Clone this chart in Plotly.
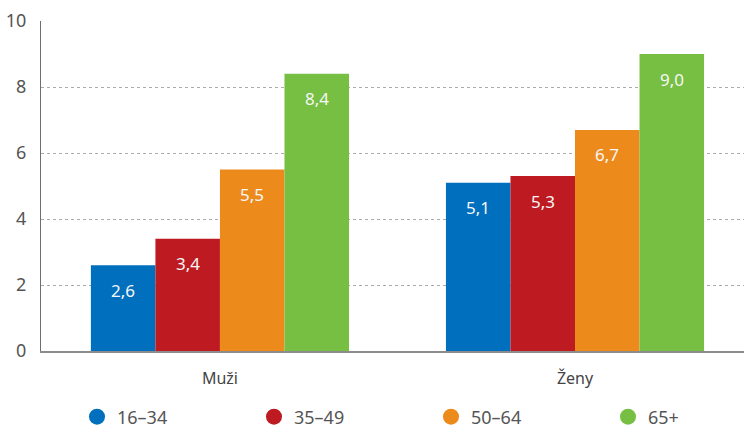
import plotly.graph_objects as go

categories = ["Muži", "Ženy"]
series_names = ["16–34", "35–49", "50–64", "65+"]
values = {
    "16–34": [2.6, 5.1],
    "35–49": [3.4, 5.3],
    "50–64": [5.5, 6.7],
    "65+": [8.4, 9.0],
}
colors = ["#0070BE", "#BE1A22", "#EC8B1C", "#77BF43"]
y_ticks = [0, 2, 4, 6, 8, 10]

FONT = "Noto Sans"
W, H = 744, 427
bargap = 0.273
fig = go.Figure()
n = len(series_names)
bw = (1 - bargap) / n
annotations = []
legend_keys = ["legend", "legend2", "legend3", "legend4"]
legend_centers = [97, 274, 451, 628]
legends = {}
for k, (name, col) in enumerate(zip(series_names, colors)):
    vals = values[name]
    fig.add_trace(go.Bar(
        x=list(range(len(categories))), y=vals, name=name, marker_color=col,
        marker_line_width=0, showlegend=False, hoverinfo="skip"))
    fig.add_trace(go.Scatter(
        x=[None], y=[None], mode="markers", name=name, legend=legend_keys[k],
        marker=dict(symbol="circle", size=22, color=col)))
    legends[legend_keys[k]] = dict(
        orientation="v", xref="container", yref="container",
        x=(legend_centers[k] - 20) / W, xanchor="left",
        y=1 - 417 / H, yanchor="middle", bgcolor="rgba(0,0,0,0)",
        font=dict(family=FONT, size=18, color="#555555"), itemwidth=30)
    for i, v in enumerate(vals):
        annotations.append(dict(
            x=i + (k - (n - 1) / 2) * bw, y=v, xref="x", yref="y",
            text=f"{v:.1f}".replace(".", ","), showarrow=False,
            yshift=-25, font=dict(family=FONT, size=17, color="#F6F6F6")))

fig.update_layout(
    width=W, height=H,
    margin=dict(l=41, r=0, t=21, b=76, autoexpand=False),
    paper_bgcolor="white", plot_bgcolor="white",
    barmode="group", bargap=bargap, bargroupgap=0,
    font=dict(family=FONT, size=16, color="#555555"),
    annotations=annotations,
    showlegend=True,
    xaxis=dict(
        range=[-0.504, 1.476], tickmode="array",
        tickvals=list(range(len(categories))), ticktext=categories,
        showgrid=False, showline=True, linecolor="#8C8C8C", linewidth=2,
        ticks="", ticklabelstandoff=12, zeroline=False,
        tickfont=dict(family=FONT, size=16, color="#444444")),
    yaxis=dict(
        range=[0, 10], tickvals=y_ticks, showgrid=True, gridcolor="#ABABAB",
        griddash="3px,3px", gridwidth=1, showline=True, linecolor="#6E6E6E",
        linewidth=1, zeroline=False, ticks="", ticklabelstandoff=10,
        tickfont=dict(family=FONT, size=18, color="#555555")),
    **legends,
)
fig.write_html("out.html", config={"displayModeBar": False},
               post_script="document.body.style.margin='0';document.body.style.overflow='hidden';")
